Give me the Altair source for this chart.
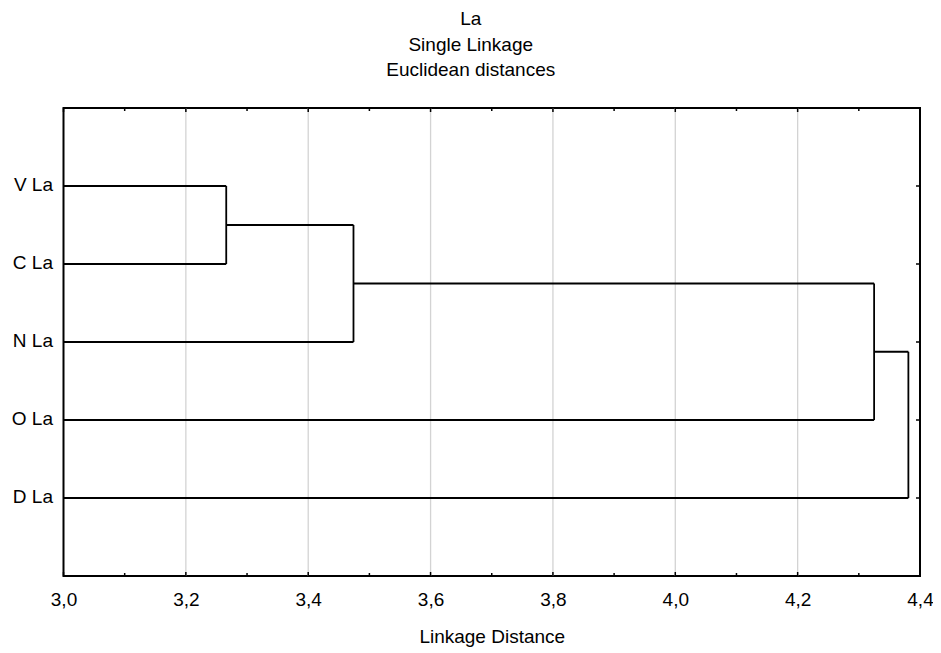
import altair as alt
import pandas as pd

# ---- data ----
labels = ["V La", "C La", "N La", "O La", "D La"]
merge_left = ["V La", "VC", "VCN", "VCNO"]
merge_right = ["C La", "N La", "O La", "D La"]
merge_names = ["VC", "VCN", "VCNO", "ALL"]
merge_dist = [3.266, 3.474, 4.325, 4.381]
leaf_dist = 0.0

x_major = [3.0, 3.2, 3.4, 3.6, 3.8, 4.0, 4.2, 4.4]
x_minor = [3.1, 3.3, 3.5, 3.7, 3.9, 4.1, 4.3]
x_grid = [3.2, 3.4, 3.6, 3.8, 4.0, 4.2]

titles = ["La", "Single Linkage", "Euclidean distances"]
x_title = "Linkage Distance"

# ---- build dendrogram segments from the merge list ----
pos = {lab: i + 1 for i, lab in enumerate(labels)}
hgt = {lab: leaf_dist for lab in labels}
segs = []
for l, r, name, d in zip(merge_left, merge_right, merge_names, merge_dist):
    yl, yr = pos[l], pos[r]
    segs.append({"x": hgt[l], "x2": d, "y": yl, "y2": yl})
    segs.append({"x": hgt[r], "x2": d, "y": yr, "y2": yr})
    segs.append({"x": d, "x2": d, "y": yl, "y2": yr})
    pos[name] = (yl + yr) / 2
    hgt[name] = d
seg_df = pd.DataFrame(segs)
leaf_df = pd.DataFrame({"label": labels, "pos": [pos[l] for l in labels]})
major_df = pd.DataFrame({"v": x_major})
minor_df = pd.DataFrame({"v": x_minor})
grid_df = pd.DataFrame({"v": x_grid})

W, H = 856.5, 468
FONT = "Liberation Sans"
FS = 19

xscale = alt.Scale(domain=[3.0, 4.4], nice=False, zero=False)
yscale = alt.Scale(domain=[0, 6], reverse=True, nice=False, zero=False)

label_expr_y = "[" + ",".join('"%s"' % l for l in labels) + "][datum.value - 1]"

x_axis = alt.Axis(
    values=x_major,
    labelExpr="replace(format(datum.value, '.1f'), '.', ',')",
    ticks=False,
    tickSize=0,
    domain=False,
    grid=False,
    labelFlush=False,
    labelOverlap=False,
    labelPadding=14,
    labelFont=FONT,
    labelFontSize=FS,
    labelColor="black",
    titleFont=FONT,
    titleFontSize=FS,
    titleFontWeight="normal",
    titleColor="black",
    titlePadding=18,
)
y_axis = alt.Axis(
    values=[pos[l] for l in labels],
    labelExpr=label_expr_y,
    ticks=False,
    tickSize=0,
    domain=False,
    grid=False,
    labelPadding=11,
    labelFont=FONT,
    labelFontSize=FS,
    labelColor="black",
    labelOffset=-2,
)

grid = alt.Chart(grid_df).mark_rule(color="#d3d3d3", strokeWidth=1.3).encode(
    x=alt.X("v:Q", scale=xscale, title=x_title, axis=x_axis)
)

dendro = alt.Chart(seg_df).mark_rule(color="black", strokeWidth=1.8, clip=True).encode(
    x=alt.X("x:Q", scale=xscale, title=x_title, axis=x_axis),
    x2="x2:Q",
    y=alt.Y("y:Q", scale=yscale, title=None, axis=y_axis),
    y2="y2:Q",
)

top_major = alt.Chart(major_df).mark_rule(color="black", strokeWidth=1.5).encode(
    x=alt.X("v:Q", scale=xscale, title=x_title, axis=x_axis), y=alt.value(0), y2=alt.value(4)
)
top_minor = alt.Chart(minor_df).mark_rule(color="black", strokeWidth=1.5).encode(
    x=alt.X("v:Q", scale=xscale, title=x_title, axis=x_axis), y=alt.value(0), y2=alt.value(3)
)
bot_major = alt.Chart(major_df).mark_rule(color="black", strokeWidth=1.5).encode(
    x=alt.X("v:Q", scale=xscale, title=x_title, axis=x_axis), y=alt.value(H - 4), y2=alt.value(H)
)
bot_minor = alt.Chart(minor_df).mark_rule(color="black", strokeWidth=1.5).encode(
    x=alt.X("v:Q", scale=xscale, title=x_title, axis=x_axis), y=alt.value(H - 3), y2=alt.value(H)
)
right_ticks = alt.Chart(leaf_df).mark_rule(color="black", strokeWidth=1.5).encode(
    y=alt.Y("pos:Q", scale=yscale, title=None, axis=y_axis), x=alt.value(W - 4), x2=alt.value(W)
)

chart = (
    alt.layer(grid, dendro, top_major, top_minor, bot_major, bot_minor, right_ticks)
    .properties(
        width=W,
        height=H,
        autosize=alt.AutoSizeParams(type="none"),
        padding={"left": 55.5, "top": 100, "right": 12.5, "bottom": 72},
        background="white",
        title=alt.TitleParams(
            text=titles,
            font=FONT,
            fontSize=FS,
            fontWeight="normal",
            color="black",
            anchor="middle",
            frame="group",
            dx=-21,
            lineHeight=25.5,
            baseline="bottom",
            offset=8,
        ),
    )
    .configure_view(stroke="black", strokeWidth=2)
)

chart.save("out.html", embed_options={"renderer": "svg", "actions": False})
